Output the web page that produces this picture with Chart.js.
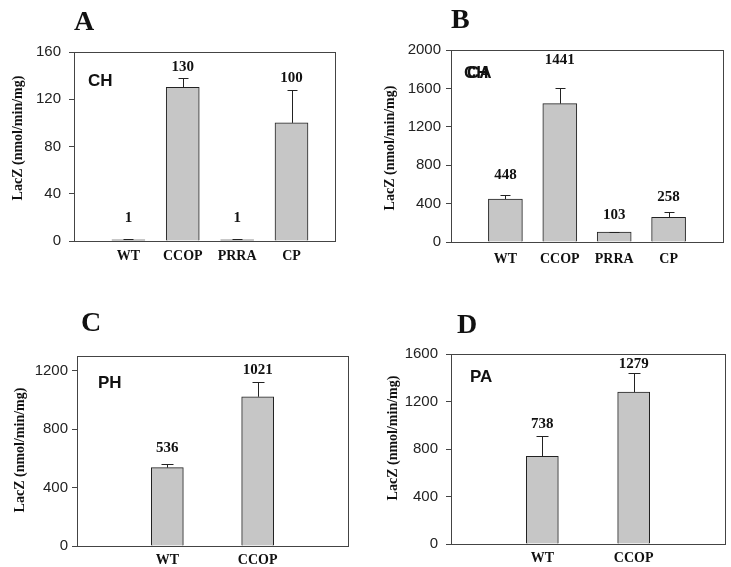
<!DOCTYPE html>
<html><head><meta charset="utf-8">
<script src="https://cdn.jsdelivr.net/npm/chart.js@4/dist/chart.umd.min.js"></script>
<style>
html,body{margin:0;padding:0;background:#fff;width:731px;height:567px;overflow:hidden}
.p{position:absolute}
</style></head><body>
<div class="p" style="left:0;top:0;width:365px;height:280px"><canvas id="cA"></canvas></div>
<div class="p" style="left:365px;top:0;width:366px;height:280px"><canvas id="cB"></canvas></div>
<div class="p" style="left:0;top:280px;width:365px;height:287px"><canvas id="cC"></canvas></div>
<div class="p" style="left:365px;top:280px;width:366px;height:287px"><canvas id="cD"></canvas></div>
<script>
// ---- data ----
const categoriesA = ['WT', 'CCOP', 'PRRA', 'CP'];
const valuesA = [1, 130, 1, 100];
const errorsA = [0.5, 8, 0.3, 28];
const yTicksA = [0, 40, 80, 120, 160];

const categoriesB = ['WT', 'CCOP', 'PRRA', 'CP'];
const valuesB = [448, 1441, 103, 258];
const errorsB = [37, 161, 5, 53];
const yTicksB = [0, 400, 800, 1200, 1600, 2000];

const categoriesC = ['WT', 'CCOP'];
const valuesC = [536, 1021];
const errorsC = [22, 100];
const yTicksC = [0, 400, 800, 1200];

const categoriesD = ['WT', 'CCOP'];
const valuesD = [738, 1279];
const errorsD = [174, 164];
const yTicksD = [0, 400, 800, 1200, 1600];

const panelLetters = ['A', 'B', 'C', 'D'];
const tissueLabels = [['CH'], ['CH', 'CA'], ['PH'], ['PA']];
const yTitle = 'LacZ (nmol/min/mg)';

// ---- styling ----
const fill = '#c6c6c6';

const decor = {
  id: 'decor',
  afterDatasetsDraw(chart, args, o) {
    const ctx = chart.ctx, a = chart.chartArea, ys = chart.scales.y;
    const meta = chart.getDatasetMeta(0);
    ctx.save();
    ctx.strokeStyle = '#222'; ctx.lineWidth = 1;
    meta.data.forEach((bar, i) => {
      const v = o.values[i], e = o.errors[i];
      const x = Math.round(bar.x) + 0.5;
      const y0 = ys.getPixelForValue(v);
      const y1 = Math.round(ys.getPixelForValue(v + e)) + 0.5;
      ctx.beginPath();
      ctx.moveTo(x, y0); ctx.lineTo(x, y1);
      ctx.moveTo(x - o.cap, y1); ctx.lineTo(x + o.cap, y1);
      ctx.stroke();
      ctx.font = 'bold 15px "Liberation Serif"';
      ctx.fillStyle = '#111'; ctx.textAlign = 'center'; ctx.textBaseline = 'middle';
      ctx.fillText(String(v), bar.x, y1 - o.labelGap[i]);
    });
    // frame
    ctx.strokeStyle = '#444';
    ctx.strokeRect(Math.round(a.left) + 0.5, Math.round(a.top) + 0.5,
                   Math.round(a.right - a.left), Math.round(a.bottom - a.top));
    // panel letter
    ctx.fillStyle = '#111'; ctx.textAlign = 'left'; ctx.textBaseline = 'alphabetic';
    ctx.font = 'bold 28px "Liberation Serif"';
    ctx.fillText(o.letter, o.letterX, o.letterY);
    // tissue label(s)
    ctx.font = 'bold 17px "Liberation Sans"'; ctx.textBaseline = 'middle';
    o.tags.forEach((t, k) => ctx.fillText(t, o.tagX + k * 3, o.tagY));
    // y title
    ctx.save();
    ctx.translate(o.titleX, o.titleY); ctx.rotate(-Math.PI / 2);
    ctx.font = 'bold 14px "Liberation Serif"'; ctx.textAlign = 'center';
    ctx.fillText(yTitle, 0, 0);
    ctx.restore();
    ctx.restore();
  }
};

function panel(id, cats, vals, errs, yTicks, p) {
  new Chart(document.getElementById(id), {
    type: 'bar',
    data: {
      datasets: [{
        data: vals.map((v, i) => ({ x: i + 1, y: v })),
        backgroundColor: fill, borderColor: '#222', borderWidth: 1,
        barThickness: p.barW
      }]
    },
    options: {
      responsive: true, maintainAspectRatio: false, animation: false,
      layout: { padding: { left: 0, top: p.padTop, right: p.padRight, bottom: 0 } },
      plugins: {
        legend: { display: false }, tooltip: { enabled: false },
        decor: {
          values: vals, errors: errs, cap: p.cap, labelGap: p.labelGap,
          letter: p.letter, letterX: p.letterX, letterY: p.letterY,
          tags: p.tags, tagX: p.tagX, tagY: p.tagY, titleX: p.titleX, titleY: p.titleY
        }
      },
      scales: {
        x: {
          type: 'linear', min: 0, max: p.xMax, offset: false,
          grid: { display: false, drawTicks: false },
          border: { display: true, color: '#444' },
          afterBuildTicks: s => { s.ticks = cats.map((c, i) => ({ value: i + 1 })); },
          ticks: {
            autoSkip: false, maxRotation: 0, padding: p.xPad, color: '#111',
            font: { family: 'Liberation Serif', weight: 'bold', size: 14 },
            callback: v => cats[v - 1] || ''
          },
          afterFit: s => { s.height = p.xH; }
        },
        y: {
          min: 0, max: p.yMax,
          afterBuildTicks: s => { s.ticks = yTicks.map(v => ({ value: v })); },
          grid: { drawOnChartArea: false, drawTicks: true, tickLength: 5, color: '#444' },
          border: { display: true, color: '#444' },
          ticks: { padding: p.yPad, color: '#222', font: { family: 'Liberation Sans', size: 15 }, callback: v => String(v) },
          afterFit: s => { s.width = p.yW; }
        }
      }
    },
    plugins: [decor]
  });
}

panel('cA', categoriesA, valuesA, errorsA, yTicksA, {
  xMax: 4.8, yMax: 160, yW: 74, xH: 39, padTop: 52, padRight: 30, xPad: 7, yPad: 8, barW: 33, cap: 5,
  labelGap: [21, 11, 21, 12], letter: panelLetters[0], letterX: 74, letterY: 30,
  tags: tissueLabels[0], tagX: 88, tagY: 81, titleX: 18, titleY: 138
});
panel('cB', categoriesB, valuesB, errorsB, yTicksB, {
  xMax: 5, yMax: 2000, yW: 86, xH: 38, padTop: 50, padRight: 8, xPad: 9, yPad: 5, barW: 34, cap: 5,
  labelGap: [20, 28, 17, 15], letter: panelLetters[1], letterX: 86, letterY: 28,
  tags: tissueLabels[1], tagX: 99, tagY: 73, titleX: 25, titleY: 148
});
panel('cC', categoriesC, valuesC, errorsC, yTicksC, {
  xMax: 3, yMax: 1300, yW: 77, xH: 21, padTop: 76, padRight: 17, xPad: 6, yPad: 4, barW: 32, cap: 6,
  labelGap: [16, 12], letter: panelLetters[2], letterX: 81, letterY: 51,
  tags: tissueLabels[2], tagX: 98, tagY: 103, titleX: 20, titleY: 170
});
panel('cD', categoriesD, valuesD, errorsD, yTicksD, {
  xMax: 3, yMax: 1600, yW: 86, xH: 23, padTop: 74, padRight: 6, xPad: 6, yPad: 8, barW: 32, cap: 6,
  labelGap: [12, 9], letter: panelLetters[3], letterX: 92, letterY: 53,
  tags: tissueLabels[3], tagX: 105, tagY: 97, titleX: 28, titleY: 158
});
</script>
</body></html>
